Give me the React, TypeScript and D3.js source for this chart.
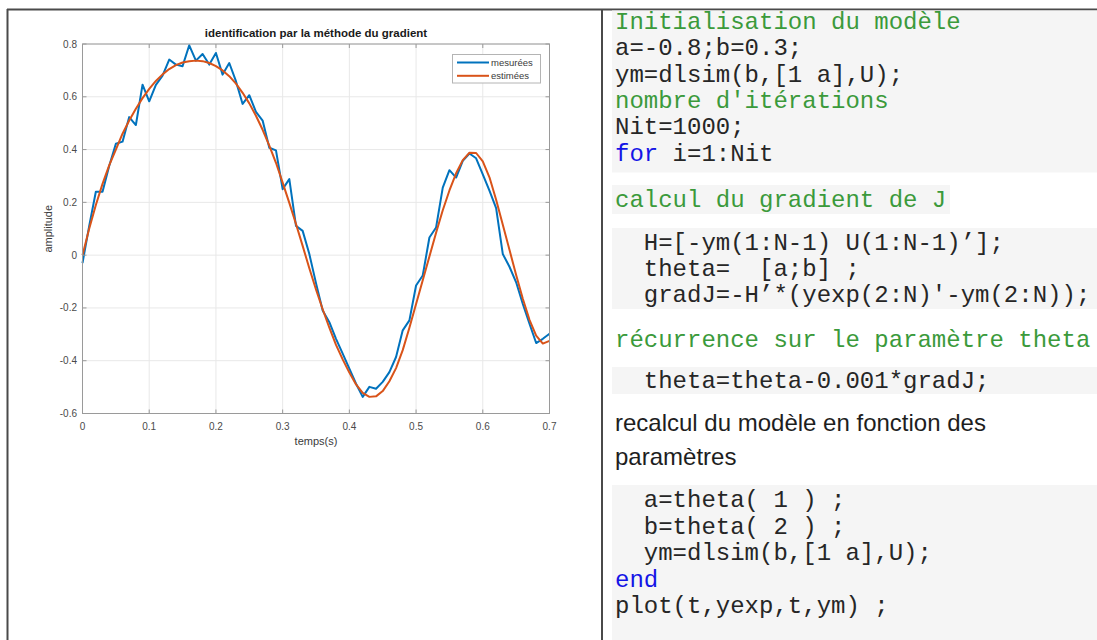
import React, { useEffect } from 'react';
import * as d3 from 'd3';

// ---------- chart data ----------
const times = [
  0.00, 0.01, 0.02, 0.03, 0.04, 0.05, 0.06, 0.07, 0.08, 0.09,
  0.10, 0.11, 0.12, 0.13, 0.14, 0.15, 0.16, 0.17, 0.18, 0.19,
  0.20, 0.21, 0.22, 0.23, 0.24, 0.25, 0.26, 0.27, 0.28, 0.29,
  0.30, 0.31, 0.32, 0.33, 0.34, 0.35, 0.36, 0.37, 0.38, 0.39,
  0.40, 0.41, 0.42, 0.43, 0.44, 0.45, 0.46, 0.47, 0.48, 0.49,
  0.50, 0.51, 0.52, 0.53, 0.54, 0.55, 0.56, 0.57, 0.58, 0.59,
  0.60, 0.61, 0.62, 0.63, 0.64, 0.65, 0.66, 0.67, 0.68, 0.69,
  0.70,
];

const mesurees = [
  -0.03, 0.11, 0.24, 0.24, 0.338, 0.422, 0.43, 0.523, 0.493, 0.646,
  0.583, 0.645, 0.68, 0.741, 0.722, 0.716, 0.795, 0.737, 0.762, 0.722,
  0.766, 0.684, 0.728, 0.659, 0.573, 0.606, 0.543, 0.51, 0.407, 0.397,
  0.25, 0.288, 0.111, 0.092, 0.004, -0.106, -0.21, -0.254, -0.317, -0.373,
  -0.43, -0.487, -0.537, -0.499, -0.506, -0.48, -0.443, -0.386, -0.285, -0.247,
  -0.115, -0.077, 0.067, 0.105, 0.256, 0.322, 0.294, 0.357, 0.385, 0.367,
  0.306, 0.244, 0.178, 0.004, -0.044, -0.103, -0.185, -0.26, -0.333, -0.317,
  -0.298,
];

const estimees = [
  0.0, 0.1, 0.19, 0.27, 0.34, 0.4, 0.46, 0.51, 0.555, 0.595,
  0.63, 0.66, 0.685, 0.705, 0.72, 0.73, 0.735, 0.737, 0.735, 0.728,
  0.716, 0.7, 0.678, 0.65, 0.615, 0.575, 0.528, 0.475, 0.415, 0.35,
  0.275, 0.198, 0.118, 0.035, -0.05, -0.13, -0.205, -0.275, -0.34, -0.395,
  -0.445, -0.49, -0.522, -0.537, -0.535, -0.515, -0.478, -0.428, -0.36, -0.275,
  -0.185, -0.095, -0.005, 0.085, 0.17, 0.245, 0.31, 0.36, 0.388, 0.387,
  0.355, 0.295, 0.21, 0.115, 0.02, -0.075, -0.165, -0.245, -0.305, -0.335,
  -0.325,
];

const xTicks = [0, 0.1, 0.2, 0.3, 0.4, 0.5, 0.6, 0.7];
const xTickLabels = ['0', '0.1', '0.2', '0.3', '0.4', '0.5', '0.6', '0.7'];
const yTicks = [-0.6, -0.4, -0.2, 0, 0.2, 0.4, 0.6, 0.8];
const yTickLabels = ['-0.6', '-0.4', '-0.2', '0', '0.2', '0.4', '0.6', '0.8'];

const seriesNames = ['mesurées', 'estimées'];
const titleText = 'identification par la méthode du gradient';
const xLabel = 'temps(s)';
const yLabel = 'amplitude';

// ---------- code panel text ----------
type Seg = [string, 'code' | 'comment' | 'kw'];
const blockA: Seg[][] = [
  [['Initialisation du modèle', 'comment']],
  [['a=-0.8;b=0.3;', 'code']],
  [['ym=dlsim(b,[1 a],U);', 'code']],
  [["nombre d'itérations", 'comment']],
  [['Nit=1000;', 'code']],
  [['for', 'kw'], [' i=1:Nit', 'code']],
];
const headingB = 'calcul du gradient de J';
const blockB = [
  '  H=[-ym(1:N-1) U(1:N-1)’];',
  '  theta=  [a;b] ;',
  "  gradJ=-H’*(yexp(2:N)'-ym(2:N));",
];
const headingC = 'récurrence sur le paramètre theta';
const blockC = ['  theta=theta-0.001*gradJ;'];
const proseD = ['recalcul du modèle en fonction des', 'paramètres'];
const blockD: Seg[][] = [
  [['  a=theta( 1 ) ;', 'code']],
  [['  b=theta( 2 ) ;', 'code']],
  [['  ym=dlsim(b,[1 a],U);', 'code']],
  [['end', 'kw']],
  [['plot(t,yexp,t,ym) ;', 'code']],
];

// ---------- styles ----------
const W = 1097;
const H = 640;
const plot = { left: 82.5, right: 549.5, top: 44, bottom: 413.5 };
const BLUE = '#0072BD';
const ORANGE = '#D95319';
const GREEN = '#3b9a3b';
const KW = '#1414e6';
const CODE = '#262626';
const CODEBG = '#f5f5f5';
const MONO = '"Liberation Mono", "DejaVu Sans Mono", monospace';
const SANS = '"Liberation Sans", Arial, Helvetica, sans-serif';

const segColor = (k: string) => (k === 'comment' ? GREEN : k === 'kw' ? KW : CODE);

export default function App() {
  useEffect(() => {
    document.body.style.margin = '0';
  }, []);

  const x = d3.scaleLinear().domain([0, 0.7]).range([plot.left, plot.right]);
  const y = d3.scaleLinear().domain([-0.6, 0.8]).range([plot.bottom, plot.top]);

  const line = d3
    .line<number>()
    .x((_, i) => x(times[i]))
    .y((d) => y(d));

  const codeX = 615;
  const lineH = 26.3;

  const renderSegs = (segs: Seg[], yy: number, key: string) => (
    <text key={key} x={codeX} y={yy} fontFamily={MONO} fontSize={24} xmlSpace="preserve" style={{ whiteSpace: 'pre' }}>
      {segs.map((s, i) => (
        <tspan key={i} fill={segColor(s[1])}>
          {s[0]}
        </tspan>
      ))}
    </text>
  );

  const cx = (plot.left + plot.right) / 2;
  const tick = 4;

  return (
    <div style={{ position: 'absolute', left: 0, top: 0, width: W, height: H, background: '#fff' }}>
      <svg width={W} height={H} viewBox={`0 0 ${W} ${H}`} style={{ display: 'block' }}>
        <rect x={0} y={0} width={W} height={H} fill="#ffffff" />

        {/* frame */}
        <line x1={7} y1={9.5} x2={W} y2={9.5} stroke="#4a4a4a" strokeWidth={2} />
        <line x1={7.5} y1={9} x2={7.5} y2={H} stroke="#4a4a4a" strokeWidth={2} />
        <line x1={602} y1={9} x2={602} y2={H} stroke="#4a4a4a" strokeWidth={2} />

        {/* ---------- chart ---------- */}
        <g>
          <rect x={plot.left} y={plot.top} width={plot.right - plot.left} height={plot.bottom - plot.top} fill="#fff" />
          {xTicks.map((t, i) => (
            <line key={'gx' + i} x1={x(t)} x2={x(t)} y1={plot.top} y2={plot.bottom} stroke="#e8e8e8" strokeWidth={1} />
          ))}
          {yTicks.map((t, i) => (
            <line key={'gy' + i} x1={plot.left} x2={plot.right} y1={y(t)} y2={y(t)} stroke="#e8e8e8" strokeWidth={1} />
          ))}

          <path d={line(mesurees) || ''} fill="none" stroke={BLUE} strokeWidth={2} strokeLinejoin="round" />
          <path d={line(estimees) || ''} fill="none" stroke={ORANGE} strokeWidth={2} strokeLinejoin="round" />

          <rect x={plot.left} y={plot.top} width={plot.right - plot.left} height={plot.bottom - plot.top} fill="none" stroke="#9a9a9a" strokeWidth={1} />
          {xTicks.map((t, i) => (
            <g key={'tx' + i}>
              <line x1={x(t)} x2={x(t)} y1={plot.bottom} y2={plot.bottom - tick} stroke="#9a9a9a" />
              <line x1={x(t)} x2={x(t)} y1={plot.top} y2={plot.top + tick} stroke="#9a9a9a" />
              <text x={x(t)} y={430} textAnchor="middle" fontFamily={SANS} fontSize={10} fill="#4a4a4a">
                {xTickLabels[i]}
              </text>
            </g>
          ))}
          {yTicks.map((t, i) => (
            <g key={'ty' + i}>
              <line x1={plot.left} x2={plot.left + tick} y1={y(t)} y2={y(t)} stroke="#9a9a9a" />
              <line x1={plot.right} x2={plot.right - tick} y1={y(t)} y2={y(t)} stroke="#9a9a9a" />
              <text x={77} y={y(t) + 3.5} textAnchor="end" fontFamily={SANS} fontSize={10} fill="#4a4a4a">
                {yTickLabels[i]}
              </text>
            </g>
          ))}

          <text x={cx} y={37} textAnchor="middle" fontFamily={SANS} fontSize={11.5} fontWeight="bold" fill="#1a1a1a">
            {titleText}
          </text>
          <text x={cx} y={445} textAnchor="middle" fontFamily={SANS} fontSize={11} fill="#3a3a3a">
            {xLabel}
          </text>
          <text transform={`translate(52, ${(plot.top + plot.bottom) / 2}) rotate(-90)`} textAnchor="middle" fontFamily={SANS} fontSize={11} fill="#3a3a3a">
            {yLabel}
          </text>

          {/* legend */}
          <g>
            <rect x={452.5} y={54.5} width={88} height={28.5} fill="#fff" stroke="#b4b4b4" strokeWidth={1} />
            {seriesNames.map((n, i) => (
              <g key={n}>
                <line x1={457} x2={489} y1={62.5 + i * 13.3} y2={62.5 + i * 13.3} stroke={i === 0 ? BLUE : ORANGE} strokeWidth={2} />
                <text x={491} y={65.8 + i * 13.3} fontFamily={SANS} fontSize={9.5} fill="#3a3a3a">
                  {n}
                </text>
              </g>
            ))}
          </g>
        </g>

        {/* ---------- code panel ---------- */}
        <g>
          <rect x={612} y={10.5} width={W - 612} height={162} fill={CODEBG} />
          {blockA.map((segs, i) => renderSegs(segs, 29 + i * lineH, 'a' + i))}

          <rect x={612} y={185} width={338} height={29} fill={CODEBG} />
          <text x={codeX} y={207} fontFamily={MONO} fontSize={24} fill={GREEN}>
            {headingB}
          </text>

          <rect x={612} y={228} width={W - 612} height={81} fill={CODEBG} />
          {blockB.map((s, i) => (
            <text key={'b' + i} x={codeX} y={250 + i * 26} fontFamily={MONO} fontSize={24} fill={CODE} style={{ whiteSpace: 'pre' }}>
              {s}
            </text>
          ))}

          <text x={codeX} y={347} fontFamily={MONO} fontSize={24} fill={GREEN}>
            {headingC}
          </text>

          <rect x={612} y={367} width={W - 612} height={27} fill={CODEBG} />
          {blockC.map((s, i) => (
            <text key={'c' + i} x={codeX} y={388} fontFamily={MONO} fontSize={24} fill={CODE} style={{ whiteSpace: 'pre' }}>
              {s}
            </text>
          ))}

          {proseD.map((s, i) => (
            <text key={'p' + i} x={codeX} y={431 + i * 34} fontFamily={SANS} fontSize={24} fill="#1e1e1e">
              {s}
            </text>
          ))}

          <rect x={612} y={485} width={W - 612} height={H - 485} fill={CODEBG} />
          {blockD.map((segs, i) => renderSegs(segs, 507 + i * 26.5, 'd' + i))}
        </g>
      </svg>
    </div>
  );
}
